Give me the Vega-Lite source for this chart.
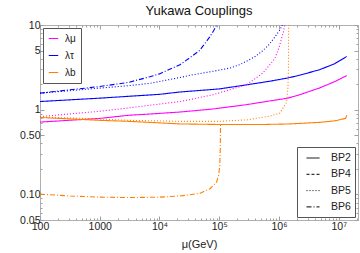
{
  "$schema": "https://vega.github.io/schema/vega-lite/v6.json",
  "width": 318,
  "height": 195,
  "autosize": "none",
  "padding": {"left": 40, "top": 25, "right": 2, "bottom": 33},
  "background": "white",
  "title": {"text": "Yukawa Couplings", "fontSize": 13, "font": "Liberation Sans", "fontWeight": "normal", "color": "#111", "offset": -2, "anchor": "middle"},
  "config": {
    "view": {"stroke": "#b0b0b0", "strokeWidth": 1},
    "axis": {"labelFont": "Liberation Sans", "labelFontSize": 10.5, "labelColor": "#222", "tickColor": "#a0a0a0", "grid": false, "domain": false, "titleFont": "Liberation Sans", "titleFontWeight": "normal", "titleFontSize": 11, "titleColor": "#222"},
    "legend": {"labelFont": "Liberation Sans", "labelFontSize": 10, "labelColor": "#222", "strokeColor": "#555", "fillColor": "white", "padding": 5, "cornerRadius": 0, "symbolType": "stroke", "title": null}
  },
  "data": {"values": [
    {"coupling": "λτ", "bp": "BP2", "mu": 100, "lam": 1.25},
    {"coupling": "λτ", "bp": "BP2", "mu": 1000, "lam": 1.37},
    {"coupling": "λτ", "bp": "BP2", "mu": 10000, "lam": 1.52},
    {"coupling": "λτ", "bp": "BP2", "mu": 22000, "lam": 1.62},
    {"coupling": "λτ", "bp": "BP2", "mu": 100000, "lam": 1.76},
    {"coupling": "λτ", "bp": "BP2", "mu": 290000, "lam": 1.97},
    {"coupling": "λτ", "bp": "BP2", "mu": 700000, "lam": 2.17},
    {"coupling": "λτ", "bp": "BP2", "mu": 1400000, "lam": 2.37},
    {"coupling": "λτ", "bp": "BP2", "mu": 2200000, "lam": 2.55},
    {"coupling": "λτ", "bp": "BP2", "mu": 4800000, "lam": 2.97},
    {"coupling": "λτ", "bp": "BP2", "mu": 8600000, "lam": 3.5},
    {"coupling": "λτ", "bp": "BP2", "mu": 13600000, "lam": 4.25},

    {"coupling": "λτ", "bp": "BP6", "mu": 100, "lam": 1.57},
    {"coupling": "λτ", "bp": "BP6", "mu": 320, "lam": 1.72},
    {"coupling": "λτ", "bp": "BP6", "mu": 1000, "lam": 1.88},
    {"coupling": "λτ", "bp": "BP6", "mu": 3000, "lam": 2.1},
    {"coupling": "λτ", "bp": "BP6", "mu": 6900, "lam": 2.45},
    {"coupling": "λτ", "bp": "BP6", "mu": 10000, "lam": 2.65},
    {"coupling": "λτ", "bp": "BP6", "mu": 22000, "lam": 3.4},
    {"coupling": "λτ", "bp": "BP6", "mu": 32000, "lam": 4.1},
    {"coupling": "λτ", "bp": "BP6", "mu": 47000, "lam": 5.0},
    {"coupling": "λτ", "bp": "BP6", "mu": 70000, "lam": 7.3},
    {"coupling": "λτ", "bp": "BP6", "mu": 80000, "lam": 8.5},
    {"coupling": "λτ", "bp": "BP6", "mu": 92000, "lam": 10.2},
    {"coupling": "λτ", "bp": "BP6", "mu": 96000, "lam": 12},

    {"coupling": "λτ", "bp": "BP5", "mu": 100, "lam": 1.57},
    {"coupling": "λτ", "bp": "BP5", "mu": 1000, "lam": 1.8},
    {"coupling": "λτ", "bp": "BP5", "mu": 3000, "lam": 1.92},
    {"coupling": "λτ", "bp": "BP5", "mu": 6900, "lam": 2.05},
    {"coupling": "λτ", "bp": "BP5", "mu": 22000, "lam": 2.4},
    {"coupling": "λτ", "bp": "BP5", "mu": 32000, "lam": 2.55},
    {"coupling": "λτ", "bp": "BP5", "mu": 78000, "lam": 2.84},
    {"coupling": "λτ", "bp": "BP5", "mu": 150000, "lam": 3.1},
    {"coupling": "λτ", "bp": "BP5", "mu": 220000, "lam": 3.4},
    {"coupling": "λτ", "bp": "BP5", "mu": 290000, "lam": 3.75},
    {"coupling": "λτ", "bp": "BP5", "mu": 390000, "lam": 4.2},
    {"coupling": "λτ", "bp": "BP5", "mu": 540000, "lam": 5.0},
    {"coupling": "λτ", "bp": "BP5", "mu": 700000, "lam": 6.0},
    {"coupling": "λτ", "bp": "BP5", "mu": 850000, "lam": 7.2},
    {"coupling": "λτ", "bp": "BP5", "mu": 1030000, "lam": 8.7},
    {"coupling": "λτ", "bp": "BP5", "mu": 1150000, "lam": 10.2},
    {"coupling": "λτ", "bp": "BP5", "mu": 1250000, "lam": 12},

    {"coupling": "λμ", "bp": "BP2", "mu": 100, "lam": 0.715},
    {"coupling": "λμ", "bp": "BP2", "mu": 1000, "lam": 0.79},
    {"coupling": "λμ", "bp": "BP2", "mu": 3000, "lam": 0.86},
    {"coupling": "λμ", "bp": "BP2", "mu": 6900, "lam": 0.89},
    {"coupling": "λμ", "bp": "BP2", "mu": 22000, "lam": 0.94},
    {"coupling": "λμ", "bp": "BP2", "mu": 78000, "lam": 1.02},
    {"coupling": "λμ", "bp": "BP2", "mu": 290000, "lam": 1.15},
    {"coupling": "λμ", "bp": "BP2", "mu": 700000, "lam": 1.27},
    {"coupling": "λμ", "bp": "BP2", "mu": 1400000, "lam": 1.37},
    {"coupling": "λμ", "bp": "BP2", "mu": 2200000, "lam": 1.5},
    {"coupling": "λμ", "bp": "BP2", "mu": 4800000, "lam": 1.81},
    {"coupling": "λμ", "bp": "BP2", "mu": 8600000, "lam": 2.15},
    {"coupling": "λμ", "bp": "BP2", "mu": 13600000, "lam": 2.53},

    {"coupling": "λμ", "bp": "BP5", "mu": 100, "lam": 0.83},
    {"coupling": "λμ", "bp": "BP5", "mu": 1000, "lam": 0.96},
    {"coupling": "λμ", "bp": "BP5", "mu": 3000, "lam": 1.05},
    {"coupling": "λμ", "bp": "BP5", "mu": 22000, "lam": 1.25},
    {"coupling": "λμ", "bp": "BP5", "mu": 78000, "lam": 1.5},
    {"coupling": "λμ", "bp": "BP5", "mu": 290000, "lam": 1.98},
    {"coupling": "λμ", "bp": "BP5", "mu": 540000, "lam": 2.72},
    {"coupling": "λμ", "bp": "BP5", "mu": 850000, "lam": 4.0},
    {"coupling": "λμ", "bp": "BP5", "mu": 1000000, "lam": 5.4},
    {"coupling": "λμ", "bp": "BP5", "mu": 1180000, "lam": 8.2},
    {"coupling": "λμ", "bp": "BP5", "mu": 1320000, "lam": 12},

    {"coupling": "λb", "bp": "BP2", "mu": 100, "lam": 0.81},
    {"coupling": "λb", "bp": "BP2", "mu": 320, "lam": 0.78},
    {"coupling": "λb", "bp": "BP2", "mu": 1000, "lam": 0.75},
    {"coupling": "λb", "bp": "BP2", "mu": 3000, "lam": 0.73},
    {"coupling": "λb", "bp": "BP2", "mu": 10000, "lam": 0.7},
    {"coupling": "λb", "bp": "BP2", "mu": 22000, "lam": 0.68},
    {"coupling": "λb", "bp": "BP2", "mu": 100000, "lam": 0.67},
    {"coupling": "λb", "bp": "BP2", "mu": 540000, "lam": 0.67},
    {"coupling": "λb", "bp": "BP2", "mu": 1500000, "lam": 0.68},
    {"coupling": "λb", "bp": "BP2", "mu": 4800000, "lam": 0.71},
    {"coupling": "λb", "bp": "BP2", "mu": 8600000, "lam": 0.74},
    {"coupling": "λb", "bp": "BP2", "mu": 13000000, "lam": 0.79},
    {"coupling": "λb", "bp": "BP2", "mu": 13600000, "lam": 0.86},

    {"coupling": "λb", "bp": "BP5", "mu": 100, "lam": 0.82},
    {"coupling": "λb", "bp": "BP5", "mu": 1000, "lam": 0.78},
    {"coupling": "λb", "bp": "BP5", "mu": 3000, "lam": 0.75},
    {"coupling": "λb", "bp": "BP5", "mu": 22000, "lam": 0.73},
    {"coupling": "λb", "bp": "BP5", "mu": 100000, "lam": 0.73},
    {"coupling": "λb", "bp": "BP5", "mu": 290000, "lam": 0.76},
    {"coupling": "λb", "bp": "BP5", "mu": 700000, "lam": 0.84},
    {"coupling": "λb", "bp": "BP5", "mu": 1030000, "lam": 0.91},
    {"coupling": "λb", "bp": "BP5", "mu": 1330000, "lam": 1.21},
    {"coupling": "λb", "bp": "BP5", "mu": 1410000, "lam": 1.8},
    {"coupling": "λb", "bp": "BP5", "mu": 1440000, "lam": 3},
    {"coupling": "λb", "bp": "BP5", "mu": 1450000, "lam": 12},

    {"coupling": "λb", "bp": "BP6", "mu": 100, "lam": 0.101},
    {"coupling": "λb", "bp": "BP6", "mu": 320, "lam": 0.096},
    {"coupling": "λb", "bp": "BP6", "mu": 1000, "lam": 0.093},
    {"coupling": "λb", "bp": "BP6", "mu": 3200, "lam": 0.092},
    {"coupling": "λb", "bp": "BP6", "mu": 10000, "lam": 0.093},
    {"coupling": "λb", "bp": "BP6", "mu": 22000, "lam": 0.096},
    {"coupling": "λb", "bp": "BP6", "mu": 47000, "lam": 0.103},
    {"coupling": "λb", "bp": "BP6", "mu": 70000, "lam": 0.117},
    {"coupling": "λb", "bp": "BP6", "mu": 90000, "lam": 0.14},
    {"coupling": "λb", "bp": "BP6", "mu": 98000, "lam": 0.17},
    {"coupling": "λb", "bp": "BP6", "mu": 102000, "lam": 0.22},
    {"coupling": "λb", "bp": "BP6", "mu": 104000, "lam": 0.35},
    {"coupling": "λb", "bp": "BP6", "mu": 105000, "lam": 0.66}
  ]},
  "resolve": {"axis": {"x": "independent", "y": "independent"}},
  "layer": [
    {
      "mark": {"type": "line", "clip": true, "strokeWidth": 1.1},
      "encoding": {
        "x": {"field": "mu", "type": "quantitative",
          "scale": {"type": "log", "domain": [100, 21000000], "nice": false},
          "axis": {"orient": "bottom", "title": "μ(GeV)", "titlePadding": 5,
            "values": [100,200,300,400,500,600,700,800,900,1000,2000,3000,4000,5000,6000,7000,8000,9000,10000,20000,30000,40000,50000,60000,70000,80000,90000,100000,200000,300000,400000,500000,600000,700000,800000,900000,1000000,2000000,3000000,4000000,5000000,6000000,7000000,8000000,9000000,10000000,20000000],
            "labelExpr": "indexof([100,1000,10000,100000,1000000,10000000], datum.value) < 0 ? '' : datum.value == 100 ? '100' : datum.value == 1000 ? '1000' : datum.value == 10000 ? '10⁴' : datum.value == 100000 ? '10⁵' : datum.value == 1000000 ? '10⁶' : '10⁷'",
            "tickSize": {"condition": {"test": "indexof([100,1000,10000,100000,1000000,10000000], datum.value) >= 0", "value": -4}, "value": -2},
            "labelPadding": 5, "labelFlush": false, "labelOverlap": false}},
        "y": {"field": "lam", "type": "quantitative",
          "scale": {"type": "log", "domain": [0.05, 10], "nice": false},
          "axis": {"orient": "left", "title": null,
            "values": [0.05,0.06,0.07,0.08,0.09,0.1,0.2,0.3,0.4,0.5,0.6,0.7,0.8,0.9,1,2,3,4,5,6,7,8,9,10],
            "labelExpr": "datum.value == 0.05 ? '0.05' : datum.value == 0.1 ? '0.10' : datum.value == 0.5 ? '0.50' : datum.value == 1 ? '1' : datum.value == 5 ? '5' : datum.value == 10 ? '10' : ''",
            "tickSize": {"condition": {"test": "indexof([0.05,0.1,0.5,1,5,10], datum.value) >= 0", "value": -4}, "value": -2},
            "labelPadding": 4, "labelFlush": false, "labelOverlap": false}},
        "color": {"field": "coupling", "type": "nominal",
          "scale": {"domain": ["λμ", "λτ", "λb"], "range": ["#ff00ff", "#0000ff", "#ff8000"]},
          "legend": {"orient": "top-left", "offset": 3, "symbolSize": 90, "labelOffset": 6, "rowPadding": 6, "padding": 5, "symbolStrokeWidth": 1}},
        "strokeDash": {"field": "bp", "type": "nominal",
          "scale": {"domain": ["BP2", "BP4", "BP5", "BP6"], "range": [[1, 0], [3, 2], [1, 2], [5, 2, 1, 2]]},
          "legend": {"orient": "bottom-right", "offset": 3, "symbolSize": 169, "symbolOffset": 5, "labelOffset": 11, "rowPadding": 3.3, "padding": 4, "labelFontSize": 10.5, "symbolStrokeColor": "#000", "symbolStrokeWidth": 1}}
      }
    },
    {
      "mark": {"type": "point", "opacity": 0},
      "encoding": {
        "x": {"field": "mu", "type": "quantitative",
          "axis": {"orient": "top", "title": null, "labels": false,
            "values": [100,200,300,400,500,600,700,800,900,1000,2000,3000,4000,5000,6000,7000,8000,9000,10000,20000,30000,40000,50000,60000,70000,80000,90000,100000,200000,300000,400000,500000,600000,700000,800000,900000,1000000,2000000,3000000,4000000,5000000,6000000,7000000,8000000,9000000,10000000,20000000],
            "tickSize": {"condition": {"test": "indexof([100,1000,10000,100000,1000000,10000000], datum.value) >= 0", "value": -4}, "value": -2}}},
        "y": {"field": "lam", "type": "quantitative",
          "axis": {"orient": "right", "title": null, "labels": false,
            "values": [0.05,0.06,0.07,0.08,0.09,0.1,0.2,0.3,0.4,0.5,0.6,0.7,0.8,0.9,1,2,3,4,5,6,7,8,9,10],
            "tickSize": {"condition": {"test": "indexof([0.05,0.1,0.5,1,5,10], datum.value) >= 0", "value": -4}, "value": -2}}}
      }
    }
  ]
}
